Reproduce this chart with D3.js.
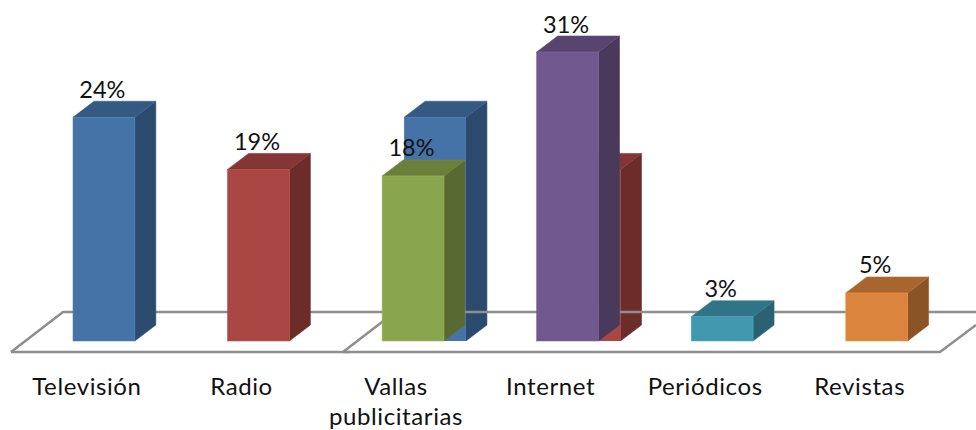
<!DOCTYPE html>
<html><head><meta charset="utf-8">
<script src="https://cdn.jsdelivr.net/npm/d3@7/dist/d3.min.js"></script>
<style>html,body{margin:0;padding:0;background:#fff}svg{display:block}text{font-family:Lato,"Open Sans",sans-serif;fill:#111}</style>
</head><body><svg id="c" width="976" height="430"></svg>
<script>
const categories = ["Televisión","Radio","Vallas publicitarias","Internet","Periódicos","Revistas"];
const values = [24, 18.4, 17.7, 31, 2.6, 5.15];
const valueLabels = ["24%","19%","18%","31%","3%","5%"];
const ghostCategories = ["Televisión","Radio"];
const ghostValues = [24, 18.4];
const ghostHosts = ["Vallas publicitarias","Internet"];
const fronts = ["#4573a7","#aa4643","#89a54e","#71588f","#4198af","#db843d"];
const tops = ["#355a82","#833634","#6a7f3c","#574570","#317487","#a8652f"];
const sides = ["#2c4a6e","#6b2c2a","#586a32","#493a5c","#2a6271","#8a5427"];

const svg = d3.select("#c");
const baseY = 341, depthX = 21, depthY = 16, ghostShift = 22;
const x = d3.scaleBand().domain(categories).range([73,907.6]).paddingInner(0.6).paddingOuter(0);
const y = d3.scaleLinear().domain([0,31]).range([baseY,52]);
const line = d3.line();

function floorPath(pts){
  svg.append("path").attr("d",line(pts)).attr("fill","none")
    .attr("stroke","#8e8e8e").attr("stroke-width",2.5);
}
function bar(g, x0, v, ci, edged){
  const w = x.bandwidth(), x1 = x0+w, t = y(v), sw = edged ? .6 : 0;
  g.append("path").attr("d",line([[x1,t],[x1+depthX,t-depthY],[x1+depthX,baseY-depthY],[x1,baseY]])+"Z")
    .attr("fill",sides[ci]).attr("stroke",d3.color(sides[ci]).brighter(.25)).attr("stroke-width",.6);
  g.append("path").attr("d",line([[x0,t],[x0+depthX,t-depthY],[x1+depthX,t-depthY],[x1,t]])+"Z")
    .attr("fill",tops[ci]).attr("stroke",d3.color(tops[ci]).brighter(.25)).attr("stroke-width",.6);
  g.append("rect").attr("x",x0).attr("y",t).attr("width",w).attr("height",baseY-t)
    .attr("fill",fronts[ci]).attr("stroke",d3.color(fronts[ci]).brighter(.35)).attr("stroke-width",sw);
}

// first floor
floorPath([[11,352],[63,312],[400,312]]);
floorPath([[11,352],[350,352]]);
// bars of the underlying picture, seen behind the second one
const ghostLayer = svg.append("g");
ghostValues.forEach((v,i)=>{
  bar(ghostLayer, x(ghostHosts[i])+ghostShift, v, categories.indexOf(ghostCategories[i]), false);
});
// second floor
floorPath([[343,352],[395,312],[976,312]]);
floorPath([[343,352],[940,352],[976,325]]);

const barLayer = svg.append("g");
categories.forEach((c,i)=>{ bar(barLayer, x(c), values[i], i, true); });

svg.append("g").selectAll("text").data(categories).join("text")
  .attr("x",c=>x(c)+x.bandwidth()/2-1.5)
  .attr("y",(c,i)=>y(values[i])-19.5)
  .attr("text-anchor","middle").attr("font-size",23.5)
  .text((c,i)=>valueLabels[i]);

const axis = svg.append("g").attr("transform","translate(-17,372)")
  .call(d3.axisBottom(x).tickSize(0).tickPadding(0));
axis.select(".domain").remove();
axis.selectAll("text").each(function(c){
  const t = d3.select(this), words = c.split(" ");
  t.text(null).attr("y",null).attr("dy",null);
  words.forEach((w,i)=>{
    t.append("tspan").attr("x",0).attr("y",22.5+i*30).text(w);
  });
}).style("font-size","24px").style("letter-spacing","0.6px").style("font-family","Lato").style("fill","#111");
</script></body></html>
